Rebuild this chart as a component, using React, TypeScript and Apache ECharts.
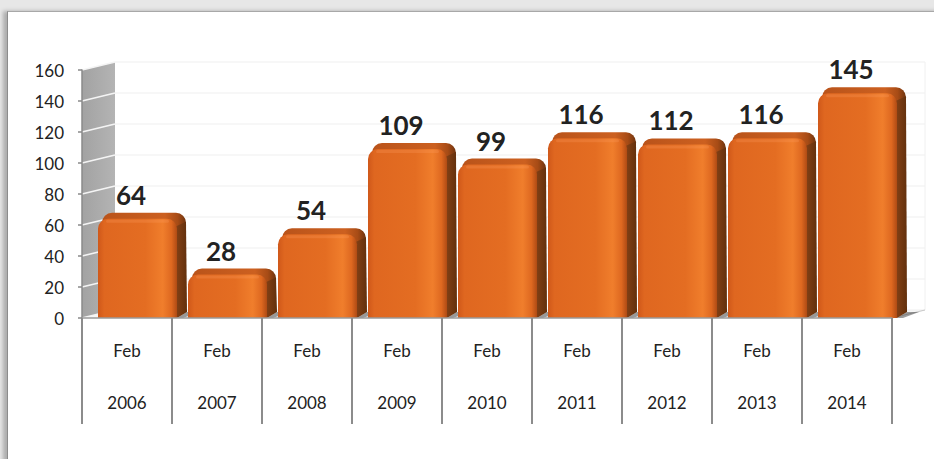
import React, { useEffect, useRef } from "react";
import * as echarts from "echarts";

const months = ["Feb", "Feb", "Feb", "Feb", "Feb", "Feb", "Feb", "Feb", "Feb"];
const years = ["2006", "2007", "2008", "2009", "2010", "2011", "2012", "2013", "2014"];
const values = [64, 28, 54, 109, 99, 116, 112, 116, 145];
const yTicks = [0, 20, 40, 60, 80, 100, 120, 140, 160];

const DX = 33;
const DY = 8;

export default function App() {
  const ref = useRef<HTMLDivElement>(null);
  useEffect(() => {
    if (!ref.current) return;
    const chart = echarts.init(ref.current, undefined, { renderer: "svg" });
    const cats = years.map((y, i) => `${months[i]}\n\n${y}`);
    const n = cats.length;

    const backdrop = (params: any, api: any) => {
      const band = api.size([1, 0])[0];
      const x0 = api.coord([0, 0])[0] - band / 2;
      const xEnd = api.coord([n - 1, 0])[0] + band / 2;
      const yBase = api.coord([0, yTicks[0]])[1];
      const yTop = api.coord([0, yTicks[yTicks.length - 1]])[1];
      const children: any[] = [];
      children.push({
        type: "polygon",
        shape: { points: [[x0, yBase], [x0 + DX, yBase - DY], [xEnd + DX, yBase - DY], [xEnd, yBase]] },
        style: { fill: "#f6f6f6" },
      });
      yTicks.forEach((t) => {
        const y = api.coord([0, t])[1];
        children.push({
          type: "line",
          shape: { x1: x0 + DX, y1: y - DY, x2: xEnd + DX, y2: y - DY },
          style: { stroke: "#efefef", lineWidth: 1.2 },
        });
      });
      children.push({
        type: "line",
        shape: { x1: xEnd + DX, y1: yTop - DY, x2: xEnd + DX, y2: yBase - DY },
        style: { stroke: "#f0f0f0", lineWidth: 1 },
      });
      children.push({
        type: "polygon",
        shape: { points: [[x0, yTop], [x0 + DX, yTop - DY], [x0 + DX, yBase - DY], [x0, yBase]] },
        style: {
          fill: new echarts.graphic.LinearGradient(0, 0, 1, 0, [
            { offset: 0, color: "#a2a2a2" },
            { offset: 1, color: "#b4b4b4" },
          ]),
        },
      });
      yTicks.forEach((t) => {
        const y = api.coord([0, t])[1];
        children.push({
          type: "line",
          shape: { x1: x0, y1: y, x2: x0 + DX, y2: y - DY },
          style: { stroke: "#f4f4f4", lineWidth: 1.6 },
        });
      });
      children.push({
        type: "line",
        shape: { x1: xEnd, y1: yBase, x2: xEnd + DX, y2: yBase - DY },
        style: { stroke: "#c8c8c8", lineWidth: 1 },
      });
      return { type: "group", children };
    };

    const bar3d = (params: any, api: any) => {
      const idx = api.value(0);
      const v = api.value(1);
      const band = api.size([1, 0])[0];
      const cx = api.coord([idx, v])[0];
      const bs = cx - band / 2;
      const base = api.coord([idx, 0])[1];
      const top = api.coord([idx, v])[1];
      const fx = bs + 16;
      const fw = 79;
      const sw = 10;
      const sd = 6;
      const children: any[] = [];
      children.push({
        type: "polygon",
        shape: { points: [[fx + fw, base], [fx + fw + sw, base - sd], [fx + fw + sw + 12, base - sd], [fx + fw + 6, base]] },
        style: { fill: "rgba(60,60,60,0.5)" },
      });
      // top cap
      children.push({
        type: "rect",
        shape: { x: fx + 4, y: top - sd, width: fw + sw - 5, height: 26, r: 10 },
        style: {
          fill: new echarts.graphic.LinearGradient(0, 0, 1, 0, [
            { offset: 0, color: "#b9531a" },
            { offset: 0.75, color: "#cc6020" },
            { offset: 0.9, color: "#a84c16" },
            { offset: 1, color: "#6e340f" },
          ]),
        },
      });
      // side
      children.push({
        type: "polygon",
        shape: {
          points: [[fx + fw - 2, top + 8], [fx + fw + sw - 1, top + 3], [fx + fw + sw, base - sd], [fx + fw, base]],
        },
        style: {
          fill: new echarts.graphic.LinearGradient(0, 0, 1, 0, [
            { offset: 0, color: "#874216" },
            { offset: 1, color: "#62300d" },
          ]),
        },
      });
      // front
      children.push({
        type: "rect",
        shape: { x: fx, y: top, width: fw, height: base - top, r: [10, 10, 0, 0] },
        style: {
          fill: new echarts.graphic.LinearGradient(0, 0, 1, 0, [
            { offset: 0, color: "#cf581a" },
            { offset: 0.08, color: "#df6720" },
            { offset: 0.6, color: "#e46d22" },
            { offset: 0.82, color: "#f07e2c" },
            { offset: 0.93, color: "#de6820" },
            { offset: 1, color: "#b04b14" },
          ]),
        },
      });
      children.push({
        type: "rect",
        shape: { x: fx + 8, y: top + 1, width: fw - 16, height: 3, r: 1.5 },
        style: { fill: "rgba(255,160,100,0.25)" },
      });
      children.push({
        type: "text",
        style: {
          text: String(v),
          x: bs + 49,
          y: top - 24,
          align: "center",
          verticalAlign: "middle",
          fill: "#222222",
          font: "bold 26px Lato, 'Noto Sans', sans-serif",
        },
      });
      return { type: "group", children };
    };

    chart.setOption({
      animation: false,
      backgroundColor: "transparent",
      textStyle: { fontFamily: "Lato, 'Noto Sans', sans-serif" },
      grid: { left: 82, right: 42, top: 70, bottom: 141, containLabel: false },
      xAxis: {
        type: "category",
        data: cats,
        boundaryGap: true,
        axisLine: { show: true, lineStyle: { color: "#9a9a9a", width: 1.5 } },
        axisTick: { show: true, length: 106, interval: 0, alignWithLabel: false, lineStyle: { color: "#8c8c8c", width: 2 } },
        axisLabel: { interval: 0, margin: 19, lineHeight: 26, fontSize: 17, color: "#222222" },
        splitLine: { show: false },
        z: 10,
      },
      yAxis: {
        type: "value",
        min: 0,
        max: 160,
        interval: 20,
        axisLine: { show: true, lineStyle: { color: "#8a8a8a", width: 1.5 } },
        axisTick: { show: true, length: 4, lineStyle: { color: "#8a8a8a", width: 1.5 } },
        axisLabel: { margin: 18, fontSize: 17, color: "#222222" },
        splitLine: { show: false },
        z: 10,
      },
      series: [
        { type: "custom", renderItem: backdrop, data: [[0, 0]], silent: true, z: 1 },
        { type: "custom", renderItem: bar3d, data: values.map((v, i) => [i, v]), z: 2 },
      ],
    });
    return () => chart.dispose();
  }, []);

  return (
    <div style={{ position: "fixed", left: 0, top: 0, width: 934, height: 459, background: "#e7e7e7", overflow: "hidden" }}>
      <div
        style={{
          position: "absolute",
          left: 7,
          top: 11,
          width: 940,
          height: 460,
          background: "#ffffff",
          borderTop: "1px solid #a8a8a8",
          borderLeft: "1px solid #8c8c8c",
          boxShadow: "-4px 0 4px rgba(0,0,0,0.25)",
        }}
      />
      <div ref={ref} style={{ position: "absolute", left: 0, top: 0, width: 934, height: 459 }} />
    </div>
  );
}
